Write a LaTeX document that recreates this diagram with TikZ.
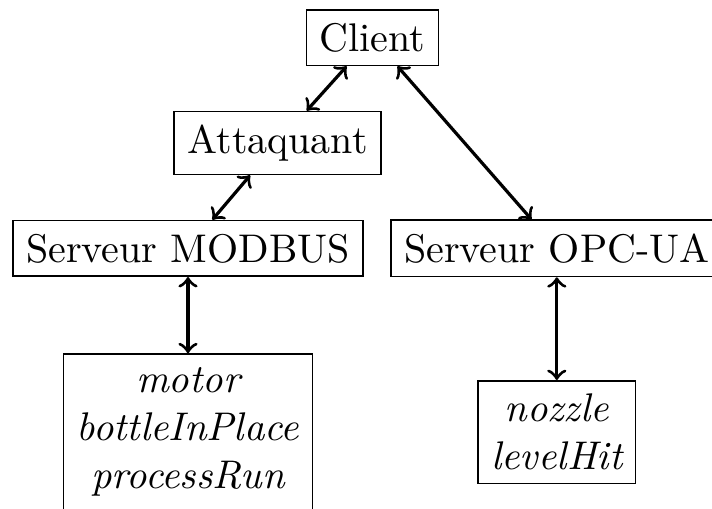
\documentclass[tikz,border=0pt]{standalone}
\RequirePackage{amsmath}
\RequirePackage{amssymb}

\begin{document}
\begin{tikzpicture}[x=1pt,y=1pt,
		box/.style={draw,rectangle},
		vars/.style={draw,rectangle,align=center,anchor=north,font=\itshape},
		link/.style={<->,thick}]
			\useasboundingbox (0,0) rectangle (178,-127.25);
			\node[box] (client) at (93.1,-9.4){Client};
			\node[box] (attaquant) at (69.4,-35.75){Attaquant};
			\node[box] (modbus) at (47,-62.1){Serveur MODBUS};
			\node[box] (opcua) at (139.2,-62.1){Serveur OPC-UA};
			\node[vars] (varsmodbus) at (47,-88.3){motor\\bottleInPlace\\processRun};
			\node[vars] (varsopcua) at (139.2,-95){nozzle\\levelHit};
			\draw (client) edge [link] (attaquant);
			\draw (attaquant) edge [link] (modbus);
			\draw (client) edge [link] (opcua);
			\draw (modbus) edge [link] (varsmodbus);
			\draw (opcua) edge [link] (varsopcua);
		\end{tikzpicture}
\end{document}
